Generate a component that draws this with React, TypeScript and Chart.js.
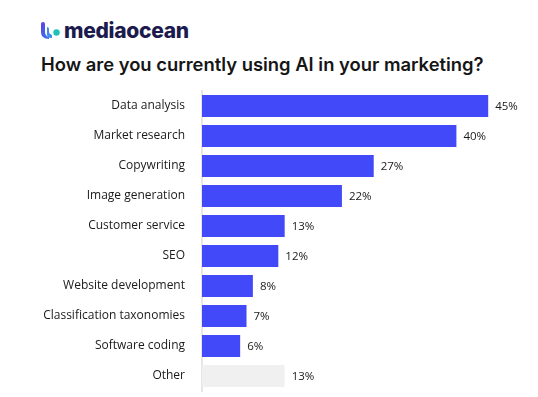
import React, { useEffect, useRef } from "react";
import { Chart, registerables } from "chart.js";

Chart.register(...registerables);

const categories = [
  "Data analysis",
  "Market research",
  "Copywriting",
  "Image generation",
  "Customer service",
  "SEO",
  "Website development",
  "Classification taxonomies",
  "Software coding",
  "Other",
];
const values = [45, 40, 27, 22, 13, 12, 8, 7, 6, 13];
const valueLabels = ["45%", "40%", "27%", "22%", "13%", "12%", "8%", "7%", "6%", "13%"];
const xMax = 50;

const BLUE = "#4149F8";
const GREY = "#F0F0F0";

const valueLabelPlugin = {
  id: "valueLabels",
  afterDatasetsDraw(chart: any) {
    const { ctx } = chart;
    const meta = chart.getDatasetMeta(0);
    ctx.save();
    ctx.font = "500 11.5px 'Open Sans'";
    ctx.fillStyle = "#1a1a1a";
    ctx.textAlign = "left";
    ctx.textBaseline = "middle";
    meta.data.forEach((el: any, i: number) => {
      ctx.fillText(valueLabels[i], el.x + 7, el.y + 1);
    });
    ctx.restore();
  },
};

export default function App() {
  const ref = useRef<HTMLCanvasElement>(null);
  useEffect(() => {
    if (!ref.current) return;
    const chart = new Chart(ref.current, {
      type: "bar",
      data: {
        labels: categories,
        datasets: [
          {
            data: values,
            backgroundColor: categories.map((c) => (c === "Other" ? GREY : BLUE)),
            borderWidth: 0,
            barPercentage: 0.74,
            categoryPercentage: 1,
          },
        ],
      },
      options: {
        indexAxis: "y",
        animation: false,
        responsive: false,
        layout: { padding: { top: 91, bottom: 6, left: 0, right: 18 } },
        plugins: {
          legend: { display: false },
          tooltip: { enabled: false },
        },
        scales: {
          x: {
            display: false,
            min: 0,
            max: xMax,
          },
          y: {
            afterFit: (scale: any) => {
              scale.width = 202;
              scale.paddingTop = 0;
              scale.paddingBottom = 0;
            },
            grid: { display: false, drawTicks: false },
            border: { display: true, color: "#E6E6E6", width: 2 },
            ticks: {
              padding: 17,
              color: "#1a1a1a",
              font: { family: "'Open Sans'", size: 12, weight: "500" as any },
            },
          },
        },
      },
      plugins: [valueLabelPlugin],
    });
    return () => chart.destroy();
  }, []);

  return (
    <div
      style={{
        position: "fixed",
        left: 0,
        top: 0,
        width: 538,
        height: 397,
        background: "#fff",
        overflow: "hidden",
      }}
    >
      <svg
        width={22}
        height={18}
        viewBox="0 0 22 18"
        style={{ position: "absolute", left: 40, top: 22 }}
      >
        <defs>
          <linearGradient id="lg" x1="0" y1="0" x2="1" y2="1">
            <stop offset="0" stopColor="#5B3FE0" />
            <stop offset="1" stopColor="#3A7BEF" />
          </linearGradient>
        </defs>
        <path d="M1 2 Q1 0 3 0 Q5 0 5 2 L5 10 Q5 14 9 15 L9 17 Q1 17 1 10 Z" fill="url(#lg)" />
        <path d="M7 5 Q9 5 9 7 L9 10 Q9 12 12 13 L12 16 Q6 16 7 10 Z" fill="#3E8CF0" />
        <circle cx={16.5} cy={10.5} r={3.2} fill="#1CC3B5" />
      </svg>
      <div
        style={{
          position: "absolute",
          left: 64,
          top: 17,
          fontFamily: "'Inter', sans-serif",
          fontWeight: 800,
          fontSize: 21,
          color: "#1C1B4D",
          letterSpacing: -0.3,
          lineHeight: "28px",
        }}
      >
        mediaocean
      </div>
      <div
        style={{
          position: "absolute",
          left: 41,
          top: 52,
          fontFamily: "'Inter', sans-serif",
          fontWeight: 600,
          fontSize: 18.4,
          color: "#161616",
          lineHeight: "24px",
          whiteSpace: "nowrap",
        }}
      >
        How are you currently using AI in your marketing?
      </div>
      <canvas ref={ref} width={538} height={397} style={{ position: "absolute", left: 0, top: 0 }} />
    </div>
  );
}
